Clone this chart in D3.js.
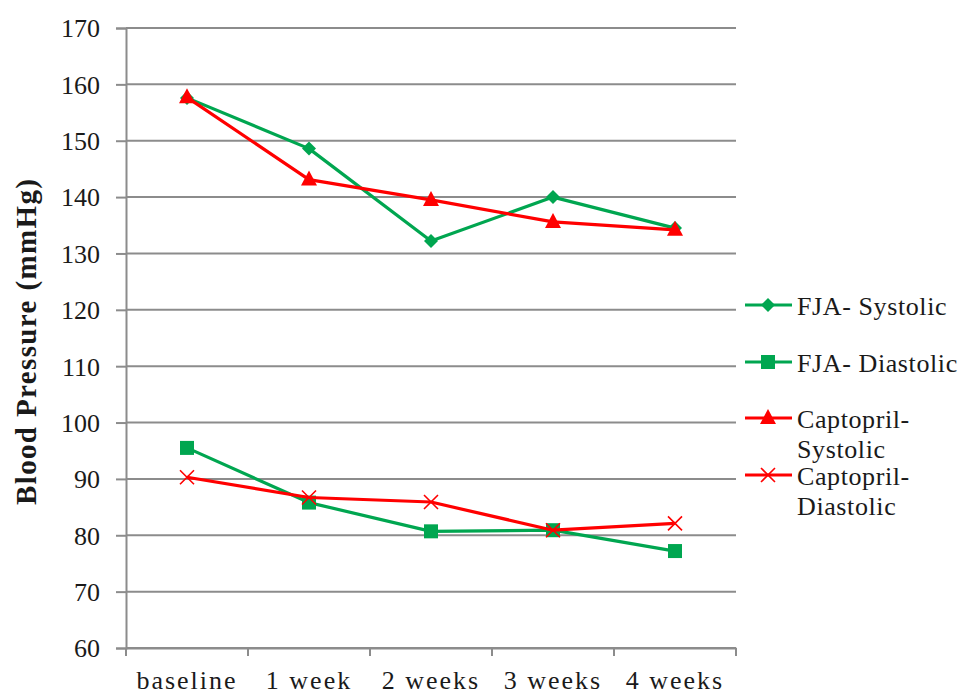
<!DOCTYPE html>
<html><head><meta charset="utf-8">
<script src="https://cdn.jsdelivr.net/npm/d3@7"></script>
<style>
html,body{margin:0;padding:0;background:#fff;}
svg{display:block;}
svg text{font-family:"Liberation Serif","Times New Roman","DejaVu Serif",serif !important;fill:#1a1a1a;}
</style></head>
<body>
<svg id="chart" width="963" height="697"></svg>
<script>
const categories = ["baseline", "1 week", "2 weeks", "3 weeks", "4 weeks"];
const fjaSystolic = [157.6, 148.6, 132.2, 140.0, 134.5];
const fjaDiastolic = [95.5, 85.8, 80.7, 80.9, 77.2];
const capSystolic = [157.7, 143.1, 139.5, 135.6, 134.2];
const capDiastolic = [90.3, 86.7, 85.9, 80.9, 82.1];
const yTicks = [60, 70, 80, 90, 100, 110, 120, 130, 140, 150, 160, 170];
const seriesNames = [["FJA- Systolic"], ["FJA- Diastolic"], ["Captopril-", "Systolic"], ["Captopril-", "Diastolic"]];

(function () {
const GREEN = "#00a650", RED = "#ff0000", GRID = "#8c8c8c";
const FONT = "'Liberation Serif', 'Times New Roman', 'DejaVu Serif', serif";
const series = [
  {values: fjaSystolic, color: GREEN, marker: "diamond"},
  {values: fjaDiastolic, color: GREEN, marker: "square"},
  {values: capSystolic, color: RED, marker: "triangle"},
  {values: capDiastolic, color: RED, marker: "cross"}
];

const svg = d3.select("#chart");
const pL = 126, pR = 736, pT = 28, pB = 648;
const x = d3.scaleBand().domain(categories).range([pL, pR]);
const y = d3.scaleLinear().domain([60, 170]).range([pB, pT]);

// gridlines
svg.append("g").selectAll("line").data(yTicks).join("line")
  .attr("x1", pL).attr("x2", pR)
  .attr("y1", d => y(d)).attr("y2", d => y(d))
  .attr("stroke", GRID).attr("stroke-width", 2);

// y axis
const yAxis = svg.append("g").attr("transform", `translate(${pL},0)`)
  .call(d3.axisLeft(y).tickValues(yTicks).tickSize(10).tickPadding(16));
yAxis.attr("font-family", FONT);
yAxis.select(".domain").attr("stroke", GRID).attr("stroke-width", 2);
yAxis.selectAll(".tick line").attr("stroke", GRID).attr("stroke-width", 2);
yAxis.selectAll(".tick text").attr("font-size", 26).style("font-family", FONT)
  .attr("fill", "#1a1a1a").attr("dy", "0.34em");

// x axis
const xAxis = svg.append("g").attr("transform", `translate(0,${pB})`)
  .call(d3.axisBottom(x).tickSize(0).tickPadding(25));
xAxis.attr("font-family", FONT);
xAxis.select(".domain").attr("stroke", GRID).attr("stroke-width", 2);
xAxis.selectAll(".tick text").attr("font-size", 26).style("font-family", FONT)
  .attr("fill", "#1a1a1a").attr("letter-spacing", 2).attr("dy", "0.6em");
// boundary ticks
const bounds = categories.map(c => x(c)).concat([x(categories[categories.length - 1]) + x.bandwidth()]);
svg.append("g").selectAll("line").data(bounds).join("line")
  .attr("x1", d => d).attr("x2", d => d).attr("y1", pB).attr("y2", pB + 8)
  .attr("stroke", GRID).attr("stroke-width", 2);

// y title
svg.append("text").attr("transform", "translate(36,342) rotate(-90)")
  .attr("text-anchor", "middle").attr("font-size", 29).attr("font-weight", "bold")
  .style("font-family", FONT)
  .attr("textLength", 326).attr("lengthAdjust", "spacing")
  .text("Blood Pressure (mmHg)");

function drawMarker(g, type, color, cx, cy) {
  if (type === "diamond") {
    g.append("path").attr("d", `M${cx},${cy-7}L${cx+7},${cy}L${cx},${cy+7}L${cx-7},${cy}Z`).attr("fill", color);
  } else if (type === "square") {
    g.append("rect").attr("x", cx - 7).attr("y", cy - 7).attr("width", 14).attr("height", 14).attr("fill", color);
  } else if (type === "triangle") {
    g.append("path").attr("d", `M${cx},${cy-9}L${cx+8},${cy+6}L${cx-8},${cy+6}Z`).attr("fill", color);
  } else {
    g.append("path").attr("d", `M${cx-7},${cy-7}L${cx+7},${cy+7}M${cx+7},${cy-7}L${cx-7},${cy+7}`)
      .attr("stroke", color).attr("stroke-width", 1.6).attr("fill", "none");
  }
}

const line = d3.line().x((d, i) => x(categories[i]) + x.bandwidth() / 2).y(d => y(d));
series.forEach(s => {
  const g = svg.append("g");
  g.append("path").datum(s.values).attr("d", line).attr("fill", "none")
    .attr("stroke", s.color).attr("stroke-width", 3.2).attr("stroke-linejoin", "round");
  s.values.forEach((v, i) => drawMarker(g, s.marker, s.color, x(categories[i]) + x.bandwidth() / 2, y(v)));
});

// legend
const legendRows = [305, 362, 418, 475];
series.forEach((s, i) => {
  const g = svg.append("g");
  const ry = legendRows[i];
  g.append("line").attr("x1", 745).attr("x2", 792).attr("y1", ry).attr("y2", ry)
    .attr("stroke", s.color).attr("stroke-width", 3.2);
  drawMarker(g, s.marker, s.color, 768, ry);
  const t = g.append("text").attr("x", 797).attr("y", ry + 10).attr("font-size", 26)
    .style("font-family", FONT).attr("letter-spacing", 0.6);
  seriesNames[i].forEach((ln, k) => {
    t.append("tspan").attr("x", 797).attr("dy", k === 0 ? 0 : 30).text(ln);
  });
});
})();
</script>
</body></html>
